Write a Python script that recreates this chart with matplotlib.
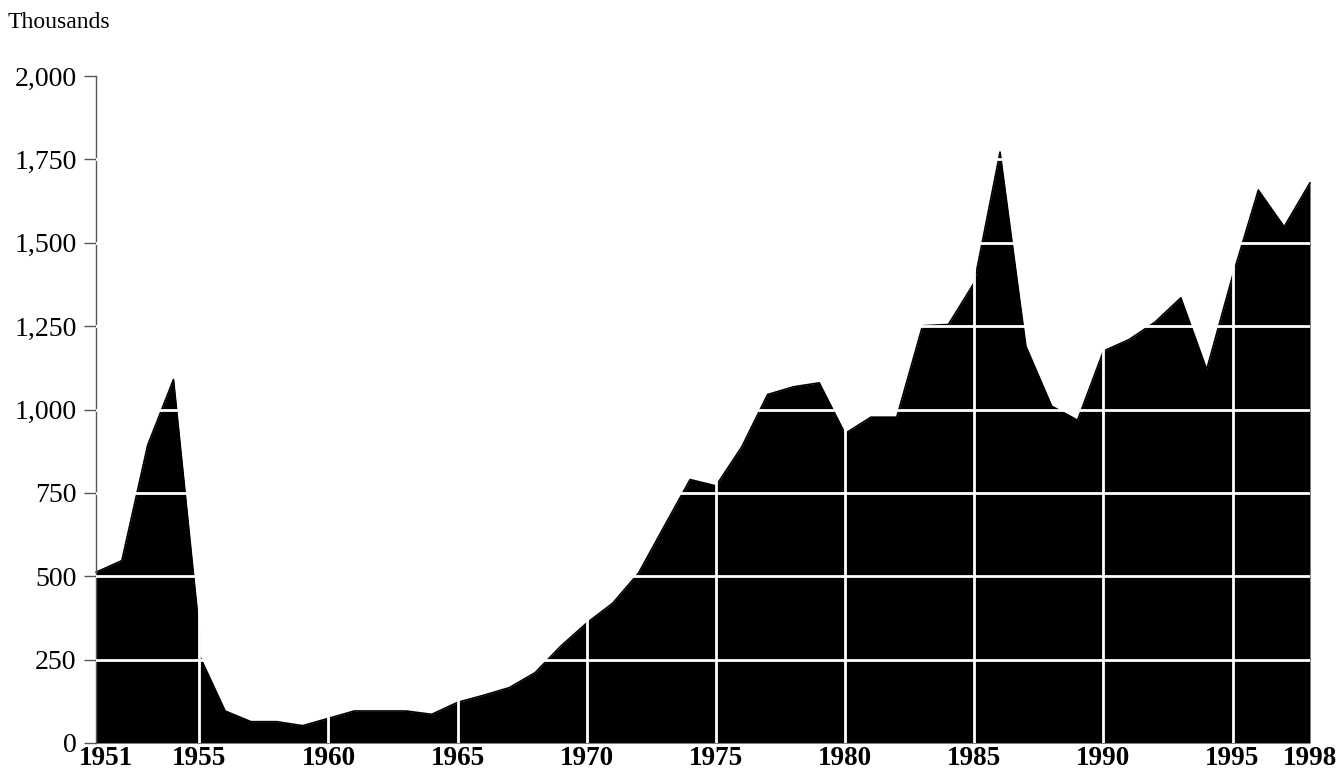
import matplotlib
matplotlib.use("Agg")
import matplotlib.pyplot as plt
import matplotlib.transforms as mtransforms

years = [1951, 1952, 1953, 1954, 1955, 1955, 1956, 1957, 1958, 1959, 1960,
         1961, 1962, 1963, 1964, 1965, 1966, 1967, 1968, 1969, 1970,
         1971, 1972, 1973, 1974, 1975, 1976, 1977, 1978, 1979, 1980,
         1981, 1982, 1983, 1984, 1985, 1986, 1987, 1988, 1989, 1990,
         1991, 1992, 1993, 1994, 1995, 1996, 1997, 1998]
values = [512, 547, 893, 1090, 335, 263, 96, 64, 64, 52, 74,
          96, 96, 96, 86, 122, 143, 166, 211, 291, 360,
          419, 509, 650, 790, 771, 888, 1045, 1068, 1080, 928,
          977, 977, 1251, 1255, 1380, 1772, 1190, 1010, 968, 1175,
          1210, 1262, 1335, 1120, 1400, 1658, 1548, 1680]

x_tick_years = [1951, 1955, 1960, 1965, 1970, 1975, 1980, 1985, 1990, 1995, 1998]
x_grid_years = [1955, 1960, 1965, 1970, 1975, 1980, 1985, 1990, 1995]
y_ticks = [0, 250, 500, 750, 1000, 1250, 1500, 1750, 2000]
y_grid = [250, 500, 750, 1000, 1250, 1500, 1750]
unit_label = "Thousands"

plt.rcParams['font.family'] = ['Liberation Serif', 'DejaVu Serif']

fig = plt.figure(figsize=(13.38, 7.74), dpi=100)
ax = fig.add_axes([96/1338, 31/774, 1214/1338, 667/774])

ax.fill_between(years, values, 0, color='black', lw=0, zorder=1)
ax.plot(years, values, color='black', lw=1.2, solid_joinstyle='round',
        solid_capstyle='round', zorder=1.5, clip_on=False)

for yv in y_grid:
    ax.axhline(yv, color='white', lw=2.0, zorder=3)
for xv in x_grid_years:
    ax.axvline(xv, color='white', lw=2.0, zorder=3)

ax.set_xlim(1951, 1998)
ax.set_ylim(0, 2000)

ax.set_yticks(y_ticks)
ax.set_yticklabels([f"{v:,}" for v in y_ticks], fontsize=20)
ax.tick_params(axis='y', length=9, width=1, color='#555555', pad=5)

ax.set_xticks(x_tick_years)
ax.set_xticklabels([str(y) for y in x_tick_years], fontsize=19.5, fontweight='bold')
ax.tick_params(axis='x', length=0, pad=2.5)

# shift first year label to the right like the original
lbl = ax.get_xticklabels()[0]
lbl.set_transform(lbl.get_transform() + mtransforms.ScaledTranslation(10/100, 0, fig.dpi_scale_trans))

for s in ['top', 'right', 'bottom']:
    ax.spines[s].set_visible(False)
ax.spines['left'].set_color('#555555')
ax.spines['left'].set_linewidth(1)

fig.text(8/1338, 1 - 22/774, unit_label, fontsize=17, ha='left', va='center')

fig.savefig('out.png', dpi=100)
